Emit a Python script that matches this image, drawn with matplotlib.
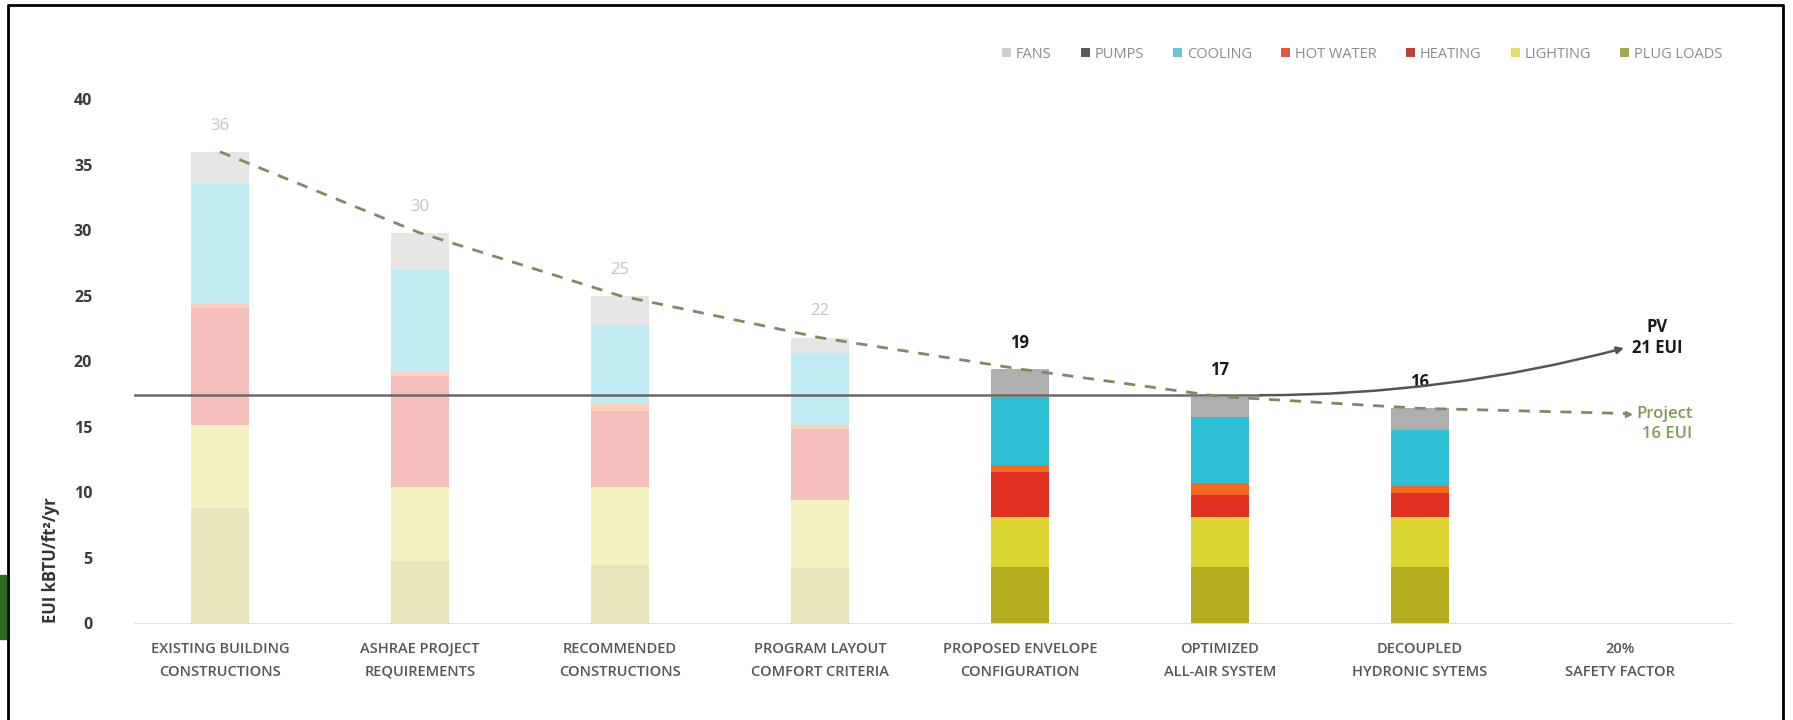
import matplotlib
matplotlib.use("Agg")
import matplotlib.pyplot as plt
from matplotlib.colors import to_rgba
from matplotlib.patches import Patch, Rectangle
from matplotlib.lines import Line2D

plt.rcParams['font.family'] = ['Open Sans', 'DejaVu Sans']

# Design steps and end-use breakdown (EUI, kBTU/ft²/yr)
steps = ["EXISTING BUILDING\nCONSTRUCTIONS", "ASHRAE PROJECT\nREQUIREMENTS",
         "RECOMMENDED\nCONSTRUCTIONS", "PROGRAM LAYOUT\nCOMFORT CRITERIA",
         "PROPOSED ENVELOPE\nCONFIGURATION", "OPTIMIZED\nALL-AIR SYSTEM",
         "DECOUPLED\nHYDRONIC SYTEMS", "20%\nSAFETY FACTOR"]
plug_loads = [8.8, 4.7, 4.4, 4.2, 4.3, 4.3, 4.3, 0]
lighting = [6.3, 5.7, 6.0, 5.2, 3.8, 3.8, 3.8, 0]
heating = [9.0, 8.5, 5.8, 5.4, 3.4, 1.7, 1.8, 0]
hot_water = [0.3, 0.3, 0.6, 0.3, 0.6, 0.9, 0.6, 0]
cooling = [9.1, 7.8, 6.0, 5.5, 5.2, 5.0, 4.25, 0]
pumps = [0, 0, 0, 0, 0, 0, 0, 0]
fans = [2.5, 2.8, 2.2, 1.2, 2.1, 1.6, 1.65, 0]
faded = [True, True, True, True, False, False, False, False]

baseline_eui = 17.4
pv_eui = 21
project_eui = 16
target_x = 7.04

series = [("PLUG LOADS", plug_loads, "#b3ad1e"),
          ("LIGHTING", lighting, "#dcd634"),
          ("HEATING", heating, "#e0301f"),
          ("HOT WATER", hot_water, "#f26a22"),
          ("COOLING", cooling, "#2fc0d6"),
          ("PUMPS", pumps, "#555555"),
          ("FANS", fans, "#afafaf")]
legend_colors = {"FANS": "#cfcfcf", "PUMPS": "#5a5a5a", "COOLING": "#6cc4d2",
                 "HOT WATER": "#e0574a", "HEATING": "#b9423e",
                 "LIGHTING": "#dfe06a", "PLUG LOADS": "#a2a655"}

fig = plt.figure(figsize=(17.93, 7.2), dpi=100)
ax = fig.add_axes([0.0747, 0.1347, 0.8913, 0.7273])

x = list(range(len(steps)))
bottom = [0.0] * len(steps)
for name, vals, col in series:
    cols = [to_rgba(col, 0.3 if f else 1.0) for f in faded]
    ax.bar(x, vals, width=0.286, bottom=bottom, color=cols, linewidth=0, zorder=2)
    bottom = [b + v for b, v in zip(bottom, vals)]
totals = bottom

# value labels above each bar
for i, t in enumerate(totals):
    if t <= 0:
        continue
    if faded[i]:
        ax.text(i, t + 2.0, f"{t:.0f}", ha="center", va="center",
                fontsize=12, color="#c4c4c4")
    else:
        ax.text(i, t + 2.0, f"{t:.0f}", ha="center", va="center",
                fontsize=12, color="#1a1a1a", fontweight="bold")

# baseline and PV curve
ax.plot([-0.43, 5.2], [baseline_eui, baseline_eui], color="#6a6a6a", lw=1.8, zorder=4)
ax.annotate("", xy=(target_x - 0.02, pv_eui), xytext=(5.2, baseline_eui),
            arrowprops=dict(arrowstyle="-|>", connectionstyle="arc3,rad=0.065",
                            color="#555555", lw=1.8, shrinkA=0, shrinkB=0,
                            mutation_scale=10), zorder=4)
ax.text(7.13, pv_eui + 1.6, "PV", ha="left", va="center", fontsize=12,
        fontweight="bold", color="#1a1a1a")
ax.text(7.06, pv_eui, "21 EUI", ha="left", va="center", fontsize=12,
        fontweight="bold", color="#1a1a1a")

# reduction trend towards the project target
trend_x = x[:7] + [target_x]
trend_y = totals[:7] + [project_eui]
ax.plot(trend_x, trend_y, color="#7d8a6a", lw=2.0, ls=(0, (4, 3.5)), zorder=5)
ax.plot(target_x, project_eui, marker=">", ms=5, color="#7d8a6a", zorder=5)
ax.text(7.08, project_eui, "Project", ha="left", va="center", fontsize=12,
        fontweight="semibold", color="#7c9a58")
ax.text(7.11, project_eui - 1.6, "16 EUI", ha="left", va="center", fontsize=12,
        fontweight="semibold", color="#7c9a58")

ax.set_xlim(-0.43, 7.56)
ax.set_ylim(0, 40)
ax.set_yticks(range(0, 41, 5))
ax.set_xticks(x)
ax.set_xticklabels(steps, fontsize=10.5, color="#555555", fontweight="semibold",
                   linespacing=1.75)
for lab in ax.get_yticklabels():
    lab.set_fontweight("bold")
ax.tick_params(axis="y", length=0, pad=30, labelsize=11.5, labelcolor="#3a3a3a")
ax.tick_params(axis="x", length=0, pad=14)
for s in ["left", "top", "right"]:
    ax.spines[s].set_visible(False)
ax.spines["bottom"].set_color("#dedede")

fig.text(0.0285, 0.135, "EUI kBTU/ft²/yr", rotation=90, ha="center", va="bottom",
         fontsize=12, fontweight="bold", color="#333333")

handles = [Patch(facecolor=legend_colors[n], edgecolor="none", label=n)
           for n in ["FANS", "PUMPS", "COOLING", "HOT WATER", "HEATING",
                     "LIGHTING", "PLUG LOADS"]]
fig.legend(handles=handles, loc="center right", bbox_to_anchor=(0.968, 0.925),
           ncol=7, frameon=False, fontsize=10.5, labelcolor="#8c8c8c",
           handlelength=0.6, handleheight=0.6, handletextpad=0.35,
           columnspacing=2.0)

# page frame and side tab
fig.add_artist(Line2D([0.0045, 0.0045, 0.9945, 0.9945], [0.0, 0.993, 0.993, 0.0],
                      transform=fig.transFigure, color="black", lw=2))
fig.add_artist(Rectangle((0, 0.112), 0.0036, 0.09, transform=fig.transFigure,
                         color="#2e6b1f"))

fig.savefig("out.png", dpi=100)
